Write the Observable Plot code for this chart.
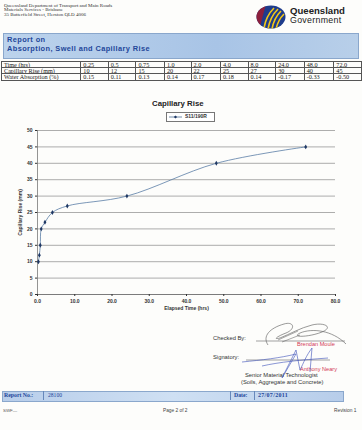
<!DOCTYPE html>
<html><head><meta charset="utf-8">
<script src="https://cdn.jsdelivr.net/npm/d3@7"></script>
<script src="https://cdn.jsdelivr.net/npm/@observablehq/plot@0.6"></script>
<style>
html,body{margin:0;padding:0;background:#fdfdfb;}
#page{position:relative;width:362px;height:430px;overflow:hidden;font-family:"Liberation Sans",Arial,sans-serif;}
.abs{position:absolute;white-space:nowrap;}
#tbl{position:absolute;left:1px;top:60.5px;border-collapse:collapse;font-family:"Liberation Serif",serif;font-size:6.2px;color:#222;table-layout:fixed;}
#tbl td{border:0.6px solid #555;padding:0 2px;height:5.4px;line-height:5.4px;overflow:hidden;}
</style></head>
<body><div id="page"></div>
<script>
const times = [0.25, 0.5, 0.75, 1.0, 2.0, 4.0, 8.0, 24.0, 48.0, 72.0];
const timeLabels = ["0.25","0.5","0.75","1.0","2.0","4.0","8.0","24.0","48.0","72.0"];
const rise = [10, 12, 15, 20, 22, 25, 27, 30, 40, 45];
const absorption = [0.15, 0.11, 0.13, 0.14, 0.17, 0.18, 0.14, -0.17, -0.33, -0.50];
const rowLabels = ["Time (hrs)", "Capillary Rise (mm)", "Water Absorption (%)"];
const seriesName = "S11/190R";
const xTicks = [0, 10, 20, 30, 40, 50, 60, 70, 80];
const yTicks = [0, 5, 10, 15, 20, 25, 30, 35, 40, 45, 50];

const page = document.getElementById("page");
function txt(s, x, y, css){const d=document.createElement("div");d.className="abs";d.textContent=s;d.style.left=x+"px";d.style.top=y+"px";if(css)d.style.cssText+=css;page.appendChild(d);return d;}

// header
["Queensland Department of Transport and Main Roads","Materials Services - Brisbane","35 Butterfield Street, Herston QLD 4006"].forEach((s,i)=>txt(s,4,2.5+i*4.8,"font-family:'Liberation Serif',serif;font-size:5px;color:#333;line-height:5px;"));
// logo
page.insertAdjacentHTML("beforeend",`<svg class="abs" style="left:255px;top:4px" width="32" height="26" viewBox="0 0 32 26">
<defs><clipPath id="cc"><ellipse cx="16" cy="13" rx="14.5" ry="11.5"/></clipPath></defs>
<ellipse cx="16" cy="13" rx="14.5" ry="11.5" fill="#1e3c8c"/>
<g clip-path="url(#cc)"><path d="M0 0 L11 0 L4 26 L0 26Z" fill="#8c1f3c"/>
<g stroke="#f2c616" stroke-width="1.6" fill="none"><path d="M9 24 Q11 12 19 4"/><path d="M13 25 Q15 13 23 5"/><path d="M17 25 Q19 14 26 7"/><path d="M21 25 Q23 16 29 10"/></g></g></svg>`);
txt("Queensland",290,5,"font-size:9.6px;font-weight:bold;color:#222;");
txt("Government",290,15,"font-size:8.8px;color:#222;letter-spacing:0.3px;");

// banner
page.insertAdjacentHTML("beforeend",`<div class="abs" style="left:3px;top:33px;width:354px;height:24px;background:linear-gradient(90deg,#bcd3ec,#a8c4e6 60%,#b8cfe9);border:0.6px solid #8aa7cc;"></div>`);
txt("Report on",7,34.5,"font-size:7.4px;font-weight:bold;color:#23479a;letter-spacing:0.4px;");
txt("Absorption, Swell and Capillary Rise",7,43.5,"font-size:7.4px;font-weight:bold;color:#23479a;letter-spacing:0.4px;");

// table
const colW=[80,27,27,28,26,29,27,27,28,29,27];
let html='<table id="tbl">';
const rows=[timeLabels, rise.map(String), absorption.map(v=>v.toFixed(2))];
rows.forEach((r,i)=>{html+='<tr><td style="width:'+(colW[0]-4)+'px">'+rowLabels[i]+'</td>'+r.map((v,j)=>'<td style="width:'+(colW[j+1]-4)+'px">'+v+'</td>').join('')+'</tr>';});
html+='</table>';
page.insertAdjacentHTML("beforeend",html);

// chart title + legend
txt("Capillary Rise",152,99,"font-size:7.8px;font-weight:bold;color:#222;");
page.insertAdjacentHTML("beforeend",`<div class="abs" style="left:166px;top:112px;width:47px;height:8px;border:0.6px solid #777;background:#fff;"></div>
<svg class="abs" style="left:169px;top:113px" width="14" height="8"><line x1="0" y1="4" x2="13" y2="4" stroke="#4f6f96" stroke-width="0.8"/><path d="M6.5 2.4 L8.1 4 L6.5 5.6 L4.9 4Z" fill="#1f3864"/></svg>`);
txt(seriesName,185,113.2,"font-size:5px;font-weight:bold;color:#333;");

// plot
const data = times.map((t,i)=>({t, r: rise[i]}));
const chart = Plot.plot({
  width: 362, height: 200,
  marginLeft: 37, marginRight: 27, marginTop: 10, marginBottom: 26,
  style: {fontFamily: "Liberation Sans, Arial, sans-serif", fontSize: "5px", fontWeight: "bold", color: "#333", background: "transparent"},
  x: {domain: [0, 80]},
  y: {domain: [0, 50]},
  marks: [
    Plot.gridY(yTicks, {stroke: "#8a8a8a", strokeOpacity: 1, strokeWidth: 0.7}),
    Plot.ruleX([0], {stroke: "#666", strokeWidth: 0.7}),
    Plot.ruleY([0], {stroke: "#666", strokeWidth: 0.7}),
    Plot.axisY({ticks: yTicks, tickSize: 2, tickPadding: 3, label: "Capillary Rise (mm)", labelAnchor: "center", labelArrow: "none", labelOffset: 19}),
    Plot.axisX({ticks: xTicks, tickSize: 2, tickPadding: 3, tickFormat: d3.format(".1f"), label: "Elapsed Time (hrs)", labelAnchor: "center", labelArrow: "none", labelOffset: 15}),
    Plot.line(data, {x: "t", y: "r", curve: "catmull-rom", stroke: "#5a7ea6", strokeWidth: 0.8}),
    Plot.dot(data, {x: "t", y: "r", symbol: "diamond", r: 1.5, fill: "#1f3864", stroke: "none"})
  ]
});
chart.style.position="absolute";chart.style.left="0px";chart.style.top="120px";
page.appendChild(chart);

// signatures block
txt("Checked By:",213,334.5,"font-size:5.8px;color:#333;");
txt("Brendan Moule",297,341,"font-size:5.6px;color:#d33a55;");
txt("Signatory:",213,354,"font-size:5.8px;color:#333;");
txt("Anthony Neary",300,366,"font-size:5.6px;color:#d33a55;");
txt("Senior Material Technologist",245,372,"font-size:5.8px;color:#333;");
txt("(Soils, Aggregate and Concrete)",241,379,"font-size:5.8px;color:#333;");
page.insertAdjacentHTML("beforeend",`<svg class="abs" style="left:0;top:300px" width="362" height="95">
<line x1="256" y1="41" x2="345" y2="41" stroke="#444" stroke-width="0.5"/>
<line x1="246" y1="60" x2="330" y2="60" stroke="#444" stroke-width="0.5"/>
<path d="M268 45 C262 36 270 28 284 24 C294 21 296 29 286 33 C278 36 272 40 280 38 C290 34 300 28 312 25 C324 22 334 27 322 32 C310 37 290 38 300 33 C312 28 332 30 346 44" fill="none" stroke="#555" stroke-width="0.6"/>
<path d="M278 40 L298 31 M282 42 L300 35" stroke="#555" stroke-width="0.5"/>
<path d="M242 62 C262 60 280 58 296 54 L282 78 L296 50 L300 70 C304 62 306 56 312 48 L310 72 M262 66 C280 62 300 60 328 58" fill="none" stroke="#3b4fb8" stroke-width="0.6"/>
</svg>`);

// footer bar
page.insertAdjacentHTML("beforeend",`<div class="abs" style="left:2px;top:391px;width:340px;height:9px;background:linear-gradient(90deg,#b7cdea,#cfe0f3 50%,#b7cdea);border:0.6px solid #8aa7cc;"></div>
<div class="abs" style="left:43px;top:391px;width:0;height:9px;border-left:0.6px solid #6688bb;"></div>
<div class="abs" style="left:230px;top:391px;width:0;height:9px;border-left:0.6px solid #6688bb;"></div>
<div class="abs" style="left:254px;top:391px;width:0;height:9px;border-left:0.6px solid #6688bb;"></div>`);
txt("Report No.:",4,392,"font-family:'Liberation Serif',serif;font-size:5.8px;font-weight:bold;color:#23479a;");
txt("28100",48,392,"font-family:'Liberation Serif',serif;font-size:5.6px;color:#23479a;");
txt("Date:",234,392,"font-family:'Liberation Serif',serif;font-size:5.8px;font-weight:bold;color:#23479a;");
txt("27/07/2011",258,392,"font-family:'Liberation Serif',serif;font-size:6px;font-weight:bold;color:#23479a;letter-spacing:0.3px;");
txt("SWF\u2014",3,408,"font-size:4.4px;color:#555;");
txt("Page 2 of 2",163,408,"font-size:4.8px;color:#444;");
txt("Revision 1",334,408,"font-size:4.8px;color:#444;");
</script></body></html>
